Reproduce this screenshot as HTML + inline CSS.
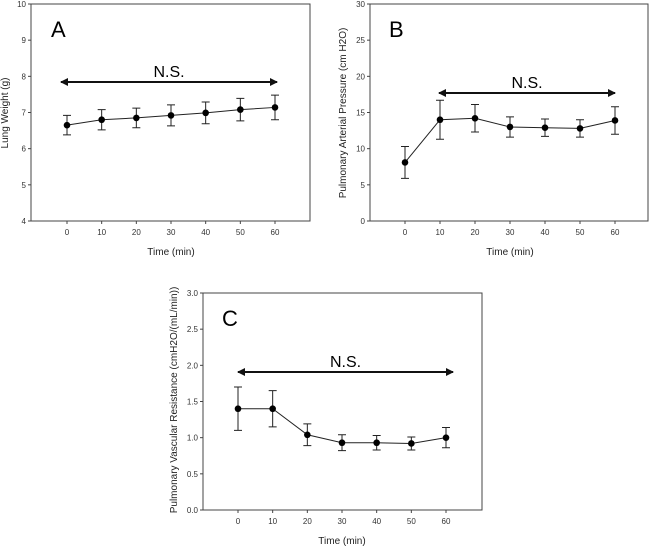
<!DOCTYPE html>
<html><head><meta charset="utf-8"><style>
body{margin:0;background:#fff;}
svg{display:block;font-family:"Liberation Sans",sans-serif;}
</style></head><body>
<svg id="c" width="650" height="547" viewBox="0 0 650 547">
<defs><marker id="ah" markerWidth="8" markerHeight="8" refX="7" refY="4" orient="auto-start-reverse" markerUnits="userSpaceOnUse"><path d="M0,0 L8,4 L0,8 z" fill="#111"/></marker></defs>
</svg>
<script>
const xVals=[0,10,20,30,40,50,60];
const aMean=[6.65,6.8,6.85,6.92,6.99,7.08,7.14];
const aErr=[0.27,0.28,0.27,0.29,0.3,0.31,0.34];
const bMean=[8.1,14,14.2,13,12.9,12.8,13.9];
const bErr=[2.2,2.7,1.9,1.4,1.2,1.2,1.9];
const cMean=[1.4,1.4,1.04,0.93,0.93,0.92,1.0];
const cErr=[0.3,0.25,0.15,0.11,0.1,0.09,0.14];
const aTicks=[4,5,6,7,8,9,10];
const bTicks=[0,5,10,15,20,25,30];
const cTicks=[0,0.5,1.0,1.5,2.0,2.5,3.0];
const svg=document.getElementById('c');
const NS='http://www.w3.org/2000/svg';
function mk(tag,attrs,parent){const e=document.createElementNS(NS,tag);for(const k in attrs)e.setAttribute(k,attrs[k]);(parent||svg).appendChild(e);return e;}
function panel(o){
  const g=mk('g',{});
  
  
  const sx=v=>o.x0+(v-0)/60*(o.x60-o.x0);
  const sy=v=>o.bottom-(v-o.ymin)/(o.ymax-o.ymin)*(o.bottom-o.top);
  const fr=mk('rect',{x:o.left,y:o.top,width:o.right-o.left,height:o.bottom-o.top,fill:'none',stroke:'#444','stroke-width':1},g);
  
  
  o.yt.forEach(t=>{
    mk('line',{x1:o.left-3,x2:o.left,y1:sy(t),y2:sy(t),stroke:'#444'},g);
    const tx=mk('text',{x:o.left-5,y:sy(t)+3,'font-size':8,'text-anchor':'end',fill:'#333'},g);
    tx.textContent=o.fmt(t);
    
    
  });
  xVals.forEach(t=>{
    mk('line',{x1:sx(t),x2:sx(t),y1:o.bottom,y2:o.bottom+3,stroke:'#444'},g);
    const tx=mk('text',{x:sx(t),y:o.bottom+14,'font-size':8,'text-anchor':'middle',fill:'#333'},g);
    tx.textContent=t;
    
    
  });
  const xt=mk('text',{x:(sx(0)+sx(60))/2,y:o.bottom+34,'font-size':10,'text-anchor':'middle',fill:'#222'},g);
  xt.textContent='Time (min)';
  
  
  const yt=mk('text',{x:0,y:0,'font-size':10,'text-anchor':'middle',fill:'#222',transform:`translate(${o.ytx},${o.yty}) rotate(-90)`},g);
  yt.textContent=o.ytitle;
  
  
  const lb=mk('text',{x:o.lx,y:o.ly,'font-size':22,fill:'#000'},g);
  lb.textContent=o.id.toUpperCase();
  
  
  const ar=mk('line',{x1:o.ax1,x2:o.ax2,y1:o.ay,y2:o.ay,stroke:'#111','stroke-width':2,'marker-start':'url(#ah)','marker-end':'url(#ah)'},g);
  
  
  const ns=mk('text',{x:(o.ax1+o.ax2)/2,y:o.ay-5,'font-size':16,'text-anchor':'middle',fill:'#000'},g);
  ns.textContent='N.S.';
  
  
  const pts=xVals.map((x,i)=>sx(x)+','+sy(o.mean[i])).join(' ');
  const ln=mk('polyline',{points:pts,fill:'none',stroke:'#222','stroke-width':1},g);
  
  
  xVals.forEach((x,i)=>{
    const X=sx(x),hi=sy(o.mean[i]+o.err[i]),lo=sy(o.mean[i]-o.err[i]);
    const eb=mk('path',{d:`M${X},${hi}V${lo}M${X-4},${hi}H${X+4}M${X-4},${lo}H${X+4}`,stroke:'#222','stroke-width':1,fill:'none'},g);
    
    
    const c=mk('circle',{cx:X,cy:sy(o.mean[i]),r:3.3,fill:'#000'},g);
    
    
  });
}
panel({id:'a',left:31,right:310,top:4,bottom:221,x0:67,x60:275,ymin:4,ymax:10,yt:aTicks,fmt:t=>t,mean:aMean,err:aErr,ytitle:'Lung Weight (g)',ytx:8,yty:113,lx:51,ly:37,ax1:61,ax2:277,ay:82});
panel({id:'b',left:370,right:648,top:4,bottom:221,x0:405,x60:615,ymin:0,ymax:30,yt:bTicks,fmt:t=>t,mean:bMean,err:bErr,ytitle:'Pulmonary Arterial Pressure (cm H2O)',ytx:346,yty:113,lx:389,ly:37,ax1:439,ax2:615,ay:93});
panel({id:'c',left:203,right:482,top:293,bottom:510,x0:238,x60:446,ymin:0,ymax:3,yt:cTicks,fmt:t=>t.toFixed(1),mean:cMean,err:cErr,ytitle:'Pulmonary Vascular Resistance (cmH2O/(mL/min))',ytx:177,yty:400,lx:222,ly:326,ax1:238,ax2:453,ay:372});
</script>
</body></html>
